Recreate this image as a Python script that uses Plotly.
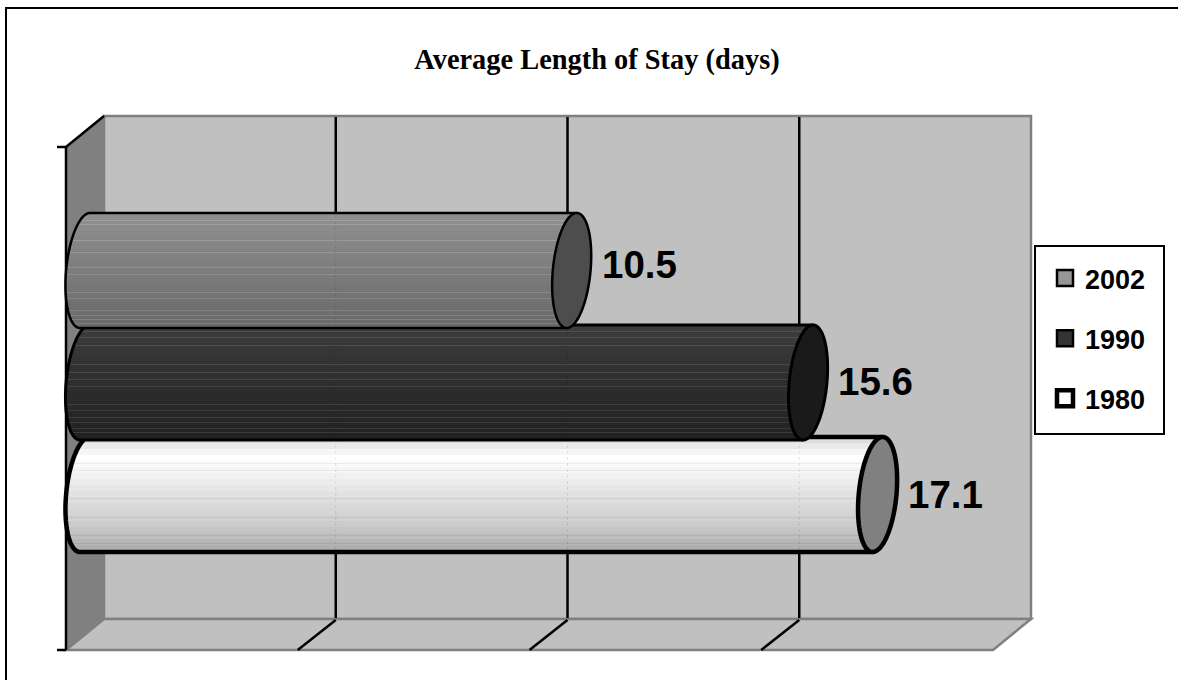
import numpy as np
import plotly.graph_objects as go

# ---- data ----
YEARS = ["1980", "1990", "2002"]
VALUES = [17.1, 15.6, 10.5]
X_TICKS = [5, 10, 15]
X_MAX = 20
TITLE = "Average Length of Stay (days)"

# ---- styling ----
LEGEND_COLORS = ["#ffffff", "#333333", "#969696"]
CAP_COLORS = ["#808080", "#1a1a1a", "#4d4d4d"]
OUTLINE_WIDTHS = [4.5, 3, 2.5]
LEGEND_SIZES = [16, 16, 16]
LEGEND_LINES = [4.5, 2.5, 2.5]
LEGEND_RANKS = [3, 2, 1]
GRAD_POS = [[0, 12, 18, 30, 55, 85, 112, 115], [0, 115], [0, 115]]
GRAD_VAL = [[0xdd, 0xf6, 0xff, 0xf6, 0xe2, 0xcc, 0xaa, 0xa6], [0x3c, 0x20], [0x90, 0x68]]
HAIR = [[26, 33, 61, 80, 98, 106], [6, 12, 20, 39, 47, 54, 61, 79, 85, 92, 97, 103, 107],
        [7, 11, 27, 39, 54, 61, 79, 85, 97, 102, 106, 110]]
HAIR_DELTA = [-14, 22, 20]
LABEL_YSHIFT = [0, 1, 6]

# ---- pixel geometry ----
W, H = 1178, 680
PL, PR, PT, PB = 50, 1045, 105, 660   # plot area in page pixels
X0 = 85.0       # pixel of value 0 at mid depth
KX = 46.35      # pixels per unit
Y0 = 494.5      # pixel of first row
KY = 112.0      # pixels per row
DEPTH = 19.0    # half depth, x
R_A, R_S, R_B = 18.9, 5.0, 57.5  # cap ellipse

def ux(px): return (px - X0) / KX
def uy(py): return (Y0 - py) / KY
def fx(px): return (px - PL) / (PR - PL)
def fy(py): return (PB - py) / (PB - PT)
def pts(p):
    return "M" + " L".join(f"{ux(a):.4f},{uy(b):.4f}" for a, b in p)

def shape_path(p, close=False, fill=None, line="#000", width=0, layer="above"):
    return dict(type="path", xref="x", yref="y", path=pts(p) + (" Z" if close else ""),
                fillcolor=fill if fill else "rgba(0,0,0,0)",
                line=dict(color=line, width=width), layer=layer)

shapes = []
# page rule: only the top and left edges are drawn in the reference
shapes.append(dict(type="line", xref="paper", yref="paper", x0=fx(5), x1=fx(1178), y0=fy(8), y1=fy(8),
                   line=dict(color="#000", width=2), layer="below"))
shapes.append(dict(type="line", xref="paper", yref="paper", x0=fx(6), x1=fx(6), y0=fy(7), y1=fy(680),
                   line=dict(color="#000", width=2), layer="below"))
# walls: pixel corners derive from the value axis at the back plane
bx0 = X0 + DEPTH
bx1 = X0 + DEPTH + X_MAX * KX
fx0 = X0 - DEPTH
fx1 = X0 - DEPTH + X_MAX * KX
TOPB, BOTB, TOPF, BOTF = 116.0, 619.0, 147.0, 650.0
shapes.append(shape_path([(bx0, TOPB), (bx1, TOPB), (bx1, BOTB), (bx0, BOTB)], True, "#c0c0c0", "#808080", 2.5, "below"))
shapes.append(shape_path([(fx0, BOTF), (bx0, BOTB), (bx1, BOTB), (fx1, BOTF)], True, "#c0c0c0", "#808080", 2.5, "below"))
shapes.append(shape_path([(fx0, TOPF), (bx0, TOPB), (bx0, BOTB), (fx0, BOTF)], True, "#808080", "#808080", 1.5, "below"))
# grid lines on back wall and floor
for t in X_TICKS:
    gx = bx0 + t * KX
    shapes.append(shape_path([(gx, TOPB + 1), (gx, BOTB - 1)], line="#000", width=2.5, layer="below"))
    shapes.append(shape_path([(gx, BOTB + 1), (gx - 2 * DEPTH, BOTF)], line="#000", width=2.5, layer="below"))
# left axis + ticks
shapes.append(shape_path([(fx0, TOPF), (fx0, BOTF)], line="#000", width=2.5, layer="below"))
shapes.append(shape_path([(fx0 - 9, TOPF), (fx0, TOPF), (bx0, TOPB)], line="#000", width=2.5, layer="below"))
shapes.append(shape_path([(fx0 - 9, BOTF), (fx0, BOTF)], line="#000", width=2.5, layer="below"))

fig = go.Figure()
for i, (yr, v) in enumerate(zip(YEARS, VALUES)):
    off = np.arange(-57, 58, 1.0)              # pixel rows of the cylinder, top first
    sin_t = off / R_B * -1
    cos_t = np.sqrt(np.clip(1 - sin_t ** 2, 0, 1))
    left = -R_A * cos_t + R_S * sin_t
    right = v * KX + R_S * sin_t
    rel = off + 57
    gray = np.interp(np.floor(rel / 6) * 6, GRAD_POS[i], GRAD_VAL[i])
    for h in HAIR[i]:
        gray[int(h)] = np.clip(gray[int(h)] + HAIR_DELTA[i], 0, 255)
    colors = [f"rgb({int(g)},{int(g)},{int(g)})" for g in gray]
    # the cylinder body: one thin horizontal bar per pixel row
    fig.add_trace(go.Bar(
        orientation="h", y=i - off / KY, x=(right - left) / KX, base=left / KX,
        width=1.15 / KY, marker=dict(color=colors, line=dict(width=0)),
        showlegend=False, hoverinfo="skip", legendgroup=yr, legendrank=LEGEND_RANKS[i]))
    # the legend key / series point, at the bar end beneath the end cap
    fig.add_trace(go.Scatter(
        x=[v], y=[i], mode="markers", name=yr, legendgroup=yr, legendrank=LEGEND_RANKS[i],
        marker=dict(symbol="square", size=LEGEND_SIZES[i], color=LEGEND_COLORS[i],
                    line=dict(color="#000", width=LEGEND_LINES[i])),
        hovertemplate=f"{yr}: {v}<extra></extra>"))

for i, v in enumerate(VALUES):
    cy = Y0 - KY * i
    w = OUTLINE_WIDTHS[i]
    cx0, cx1 = X0, X0 + v * KX
    # faint grid lines showing through the body
    for t in X_TICKS:
        gx = bx0 + t * KX
        if gx < cx1:
            shapes.append(dict(type="line", xref="x", yref="y", x0=ux(gx), x1=ux(gx), y0=uy(cy - 55), y1=uy(cy + 55),
                               line=dict(color="rgba(0,0,0,0.14)", width=1, dash="2px,4px"), layer="above"))
    # outline: left arc + bottom edge, and a top edge where the bar above does not hide it
    hidden = i < len(VALUES) - 1
    t_start = np.arcsin(54.5 / R_B) if hidden else np.pi / 2
    th = np.linspace(t_start, -np.pi / 2, 60)
    arc = [(cx0 - R_A * np.cos(a) + R_S * np.sin(a), cy - R_B * np.sin(a)) for a in th]
    arc.append((cx1 - R_S, cy + R_B))
    shapes.append(shape_path(arc, line="#000", width=w))
    start_top = X0 + VALUES[i + 1] * KX if hidden else cx0 + R_S
    shapes.append(shape_path([(start_top, cy - R_B), (cx1 + R_S, cy - R_B)], line="#000", width=w))
    # end cap
    th = np.linspace(0, 2 * np.pi, 120)
    ell = [(cx1 + R_A * np.cos(a) + R_S * np.sin(a), cy - R_B * np.sin(a)) for a in th]
    shapes.append(shape_path(ell, True, CAP_COLORS[i], "#000", w))

# legend box
shapes.append(dict(type="rect", xref="paper", yref="paper", x0=fx(1035), x1=fx(1164), y0=fy(246), y1=fy(434),
                   fillcolor="#fff", line=dict(color="#000", width=2), layer="above"))

annotations = [dict(x=v, y=i, xref="x", yref="y", xanchor="left", yanchor="middle", xshift=28, yshift=LABEL_YSHIFT[i],
                    text=f"<b>{v}</b>", showarrow=False,
                    font=dict(family="Liberation Sans", size=38.5, color="#000"))
               for i, v in enumerate(VALUES)]

fig.update_layout(
    width=W, height=H, autosize=False,
    margin=dict(l=PL, r=W - PR, t=PT, b=H - PB, pad=0),
    paper_bgcolor="#fff", plot_bgcolor="#fff", barmode="overlay", bargap=0,
    title=dict(text=f"<b>{TITLE}</b>", x=597 / W, xref="container", xanchor="center", y=1 - 59 / H, yref="container",
               yanchor="middle", font=dict(family="Liberation Serif", size=28.4, color="#000")),
    xaxis=dict(range=[ux(PL), ux(PR)], visible=False, fixedrange=True),
    yaxis=dict(range=[uy(PB), uy(PT)], visible=False, fixedrange=True),
    shapes=shapes, annotations=annotations,
    legend=dict(x=fx(1045), xanchor="left", y=fy(254), yanchor="top", traceorder="grouped", tracegroupgap=22,
                itemsizing="trace", itemwidth=30, bgcolor="rgba(0,0,0,0)", borderwidth=0,
                font=dict(family="Liberation Sans", size=27, color="#000", weight="bold")),
    showlegend=True,
)
fig.write_html("out.html", config=dict(displayModeBar=False),
               post_script="document.body.style.margin='0';document.body.style.overflow='hidden';")
